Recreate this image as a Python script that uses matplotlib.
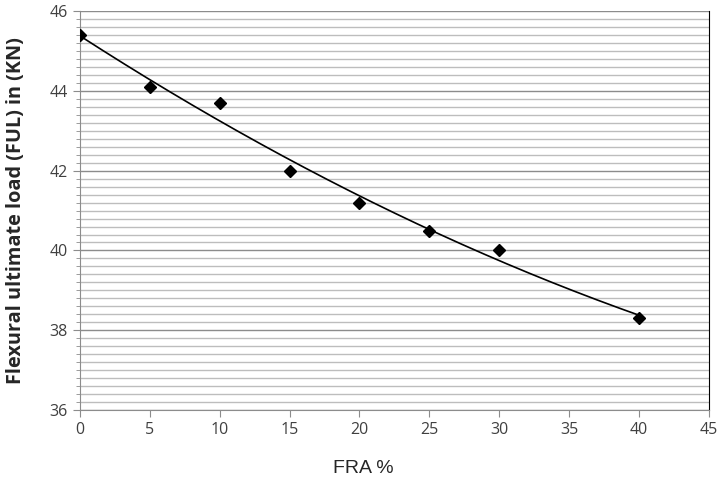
import numpy as np
import matplotlib
matplotlib.use("Agg")
import matplotlib.pyplot as plt
from matplotlib.ticker import MultipleLocator

fra = [0, 5, 10, 15, 20, 25, 30, 40]
ful = [45.4, 44.1, 43.7, 42.0, 41.2, 40.5, 40.0, 38.3]
x_ticks = [0, 5, 10, 15, 20, 25, 30, 35, 40, 45]
y_ticks = [36, 38, 40, 42, 44, 46]

plt.rcParams['font.family'] = ['Open Sans', 'DejaVu Sans']

fig = plt.figure(figsize=(7.19, 4.78), dpi=100)
ax = fig.add_axes([0.111, 0.142, 0.875, 0.835])

# trend line (2nd order polynomial fit of data)
coef = np.polyfit(fra, ful, 2)
xt = np.linspace(min(fra), max(fra), 200)
ax.plot(xt, np.polyval(coef, xt), color='black', lw=1.2, zorder=3)
ax.plot(fra, ful, linestyle='none', marker='D', color='black', markersize=6.5, zorder=4)

ax.set_xlim(0, 45)
ax.set_ylim(36, 46)
ax.set_xticks(x_ticks)
ax.set_yticks(y_ticks)
ax.yaxis.set_minor_locator(MultipleLocator(0.2))
ax.grid(axis='y', which='major', color='#8c8c8c', lw=1.0)
ax.grid(axis='y', which='minor', color='#bdbdbd', lw=1.0)
ax.set_axisbelow(True)

for s in ['left', 'bottom']:
    ax.spines[s].set_color('#8c8c8c')
ax.spines['top'].set_visible(False)
ax.spines['right'].set_color('black')
ax.tick_params(axis='both', which='major', color='#8c8c8c', length=5, labelsize=11.5, labelcolor='#404040')
ax.tick_params(axis='y', which='minor', color='#8c8c8c', length=3)

ax.set_xlabel('FRA %', fontsize=14, color='#262626', family=['Liberation Sans', 'DejaVu Sans'])
ax.xaxis.set_label_coords(0.45, -0.125)
ax.set_ylabel('Flexural ultimate load (FUL) in (KN)', fontsize=14.3, fontweight='bold', color='#262626')
ax.yaxis.set_label_coords(-0.085, 0.5)

fig.savefig('out.png', dpi=100)
